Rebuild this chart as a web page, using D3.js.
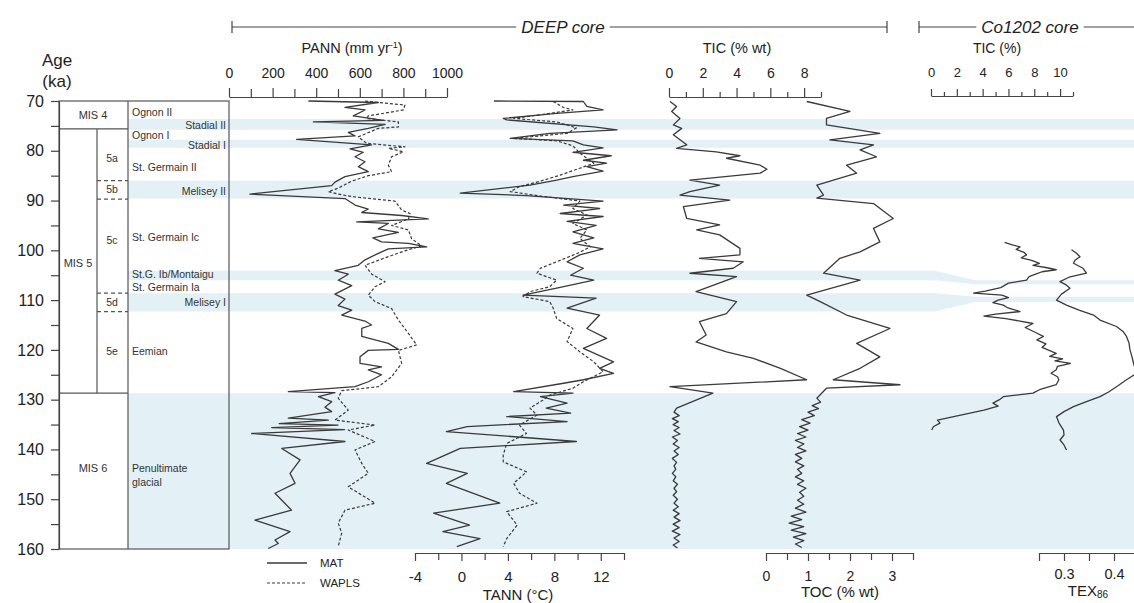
<!DOCTYPE html>
<html><head><meta charset="utf-8">
<script src="https://cdn.jsdelivr.net/npm/d3@7"></script>
<style>body{margin:0;background:#fff;} svg{display:block;font-family:"Liberation Sans",Arial,sans-serif;}</style>
</head><body><svg id="c" width="1134" height="603"></svg>
<script>
// ---------------- DATA ----------------
const ageMajor = [70,80,90,100,110,120,130,140,150,160];
const ageMinor = [75,85,95,105,115,125,135,145,155];
const pannMajor = [0,200,400,600,800,1000];
const pannMinor = [100,300,500,700,900];
const tannMajor = [-4,0,4,8,12];
const tannMinor = [-2,2,6,10,14];
const ticMajor = [0,2,4,6,8];
const ticMinor = [1,3,5,7,9];
const tocMajor = [0,1,2,3];
const tocMinor = [0.5,1.5,2.5,3.5];
const coMajor = [0,2,4,6,8,10];
const coMinor = [1,3,5,7,9,11];
const texMajor = [0.3,0.4];
const texMinor = [0.25,0.35,0.45];

// bands: [label, topAge, bottomAge, Co1202 topAge, Co1202 bottomAge]
const bands = [
  ["Stadial II",73.6,75.8,73.6,75.8],
  ["Stadial I",77.8,79.4,77.8,79.4],
  ["Melisey II",86.0,89.6,86.0,89.6],
  ["St.G. Ib/Montaigu",104.1,106.0,106.0,106.8],
  ["Melisey I",108.6,112.3,109.3,110.4],
  ["Penultimate glacial",128.7,160,128.7,160]
];
const misBounds = [75.6,128.7];
const subBounds = [86.0,89.7,108.6,112.3];
const misLabels = [["MIS 4",72.8],["MIS 5",102.5],["MIS 6",143.8]];
const subLabels = [["5a",81.5],["5b",87.8],["5c",98.0],["5d",110.4],["5e",120.2]];
const stageLeft = [["Ognon II",72.2],["Ognon I",76.8],["St. Germain II",83.3],["St. Germain Ic",97.3],["St.G. Ib/Montaigu",104.9],["St. Germain Ia",107.5],["Eemian",120.2],["Penultimate",143.8],["glacial",146.6]];
const stageRight = [["Stadial II",74.8],["Stadial I",78.9],["Melisey II",88.1],["Melisey I",110.4]];

const pannMat = [[70.0,364],[70.3,685],[71.3,532],[71.8,624],[73.0,570],[73.9,708],[74.2,387],[74.7,716],[75.5,639],[76.3,547],[77.0,578],[77.7,310],[78.8,654],[79.6,555],[80.3,616],[81.2,578],[82.2,624],[83.2,593],[84.2,639],[85.2,532],[86.3,486],[87.0,471],[88.7,96],[89.6,532],[90.9,578],[91.7,639],[92.4,609],[93.0,792],[93.7,914],[94.3,586],[94.6,731],[95.7,685],[96.4,777],[97.5,660],[98.3,700],[98.6,823],[99.3,907],[99.7,731],[100.6,685],[101.9,624],[103.0,593],[104.1,486],[104.8,547],[106.0,501],[107.1,563],[108.8,486],[109.8,532],[111.1,501],[112.0,563],[113.0,517],[114.2,624],[115.0,654],[115.7,609],[117.3,609],[118.7,731],[119.9,777],[120.1,639],[121.4,601],[122.7,601],[123.4,700],[124.0,639],[125.0,700],[126.4,639],[127.4,578],[128.4,272],[128.6,486],[129.4,410],[130.4,471],[131.5,440],[132.4,471],[133.7,272],[134.1,456],[134.8,230],[135.1,500],[135.6,196],[136.0,530],[136.8,104],[138.4,532],[139.8,242],[142.1,326],[144.8,280],[146.8,303],[148.8,211],[152.2,287],[154.2,119],[156.5,280],[158.2,211],[158.9,226],[159.9,180]];
const pannWap = [[70.0,624],[70.3,685],[70.8,807],[71.8,800],[73.0,639],[73.5,631],[74.2,777],[75.2,777],[75.5,685],[77.2,593],[78.5,631],[79.2,807],[79.5,731],[80.2,800],[81.2,746],[82.9,731],[84.2,746],[85.0,639],[86.1,563],[87.5,501],[88.2,456],[88.7,501],[89.2,563],[90.1,761],[91.9,792],[92.6,830],[93.7,823],[95.0,746],[95.9,823],[97.7,838],[99.1,884],[100.1,807],[101.5,716],[103.0,624],[104.8,655],[106.3,716],[107.3,670],[109.0,639],[110.3,670],[111.7,746],[114.0,777],[116.7,823],[119.0,861],[120.1,777],[122.7,792],[125.4,746],[127.4,685],[128.2,517],[129.7,501],[132.1,547],[134.1,486],[135.1,670],[136.1,547],[138.4,670],[140.1,578],[142.8,609],[144.8,639],[147.5,547],[150.8,670],[152.2,532],[154.8,501],[156.8,517],[159.5,501]];

const tannMat = [[70.0,2.8],[70.1,10.5],[71.1,10.8],[71.8,12.2],[72.5,8.2],[73.5,3.6],[73.8,3.9],[75.2,11.4],[75.8,13.4],[76.5,7.6],[77.5,4.2],[78.0,9.6],[78.8,10.5],[79.4,12.2],[80.3,9.6],[81.0,12.9],[81.9,10.5],[82.5,12.5],[83.2,10.8],[84.1,12.2],[85.2,9.6],[85.9,8.2],[86.9,5.9],[88.5,-0.1],[89.0,5.6],[90.1,12.2],[90.9,8.8],[91.6,11.9],[92.6,8.5],[93.2,12.2],[94.2,9.1],[95.0,11.6],[96.3,9.6],[97.5,11.4],[98.6,9.6],[99.7,12.2],[100.9,10.2],[102.3,9.1],[103.6,10.5],[105.0,9.4],[106.0,11.4],[107.6,8.2],[109.0,5.3],[109.6,11.6],[111.6,9.1],[113.0,11.9],[115.7,10.8],[117.7,12.5],[119.7,10.5],[122.4,13.1],[123.7,11.9],[124.7,13.1],[126.0,10.5],[126.7,8.8],[128.4,4.5],[128.7,9.6],[129.4,6.8],[130.7,9.1],[131.7,7.3],[132.7,9.4],[133.4,3.9],[134.4,9.1],[135.4,0.5],[136.4,-1.3],[138.4,9.9],[139.8,-0.1],[142.8,-3.0],[144.8,0.5],[146.8,-1.3],[150.8,3.3],[152.8,-2.4],[155.2,0.7],[156.5,-1.6],[157.9,1.6],[159.5,-0.4]];
const tannWap = [[70.1,7.9],[71.3,8.8],[71.8,9.6],[72.5,7.6],[73.5,4.5],[74.2,8.2],[75.4,9.9],[76.5,9.1],[77.5,4.5],[78.0,8.2],[79.0,9.6],[80.5,10.2],[81.5,10.8],[82.5,11.4],[83.5,10.2],[84.9,8.5],[86.1,6.8],[87.2,5.0],[88.2,4.2],[88.9,6.2],[90.1,10.2],[91.6,9.6],[92.9,10.8],[94.6,9.6],[95.9,10.8],[97.6,10.2],[99.3,11.1],[100.6,10.0],[102.3,8.2],[103.6,6.8],[104.6,6.5],[106.0,8.2],[107.3,7.6],[108.3,5.9],[109.3,5.3],[110.3,7.6],[111.6,7.9],[113.7,8.2],[115.7,9.6],[118.3,9.1],[120.4,10.2],[122.4,11.4],[124.4,12.2],[126.4,10.5],[127.7,9.6],[129.1,7.6],[130.1,7.0],[131.7,5.9],[133.1,6.5],[135.1,5.0],[136.8,5.6],[138.8,3.9],[141.1,3.6],[142.5,3.6],[144.5,5.6],[146.8,4.5],[148.8,5.0],[150.8,6.5],[152.5,3.9],[155.2,4.8],[157.9,3.9],[159.5,3.6]];

const ticDeep = [[70.1,0.06],[71.1,0.45],[72.1,0.16],[73.5,0.65],[74.8,0.26],[75.5,0.75],[76.8,0.26],[77.8,0.65],[78.8,1.05],[79.5,0.45],[80.2,2.8],[81.0,4.2],[81.5,3.4],[82.9,5.4],[83.7,5.8],[84.5,5.4],[85.9,1.24],[86.9,3.0],[88.2,1.24],[88.9,0.65],[89.9,3.6],[91.2,0.85],[93.6,1.05],[94.9,3.0],[95.9,1.64],[96.9,3.0],[99.6,4.2],[100.9,4.2],[101.6,1.8],[102.3,4.4],[103.6,3.8],[104.6,1.24],[105.3,4.0],[108.3,1.6],[110.3,4.0],[112.7,3.4],[114.3,1.8],[117.0,2.2],[118.4,1.6],[120.4,3.4],[121.7,5.0],[123.7,6.6],[126.0,8.15],[127.4,0.06],[128.7,2.6],[131.7,0.45],[132.5,0.3],[133.2,0.6],[133.8,0.2],[134.4,0.55],[135.0,0.25],[135.6,0.6],[136.2,0.3],[136.9,0.65],[137.5,0.2],[138.2,0.5],[138.9,0.25],[139.6,0.6],[140.3,0.3],[141.0,0.55],[141.8,0.2],[142.6,0.45],[143.3,0.3],[144.0,0.4],[144.8,0.2],[145.5,0.4],[146.3,0.25],[147.0,0.5],[147.8,0.3],[148.5,0.45],[149.2,0.25],[150.0,0.5],[150.8,0.3],[151.5,0.55],[152.2,0.25],[152.9,0.6],[153.6,0.3],[154.3,0.65],[155.0,0.25],[155.7,0.6],[156.4,0.2],[157.1,0.65],[157.8,0.3],[158.5,0.6],[159.2,0.25],[159.8,0.5]];
const tocDeep = [[70.1,0.97],[72.1,2.0],[73.5,1.44],[74.8,1.44],[76.5,2.71],[77.8,1.52],[78.8,2.56],[79.8,2.24],[81.2,2.63],[82.9,1.92],[84.5,2.16],[86.9,1.21],[88.9,1.37],[89.5,1.21],[90.6,2.56],[93.6,3.03],[95.6,2.56],[98.3,2.71],[100.3,2.24],[101.6,1.76],[104.6,1.37],[106.0,2.24],[109.0,0.97],[110.3,1.29],[113.0,1.92],[115.7,2.95],[118.7,2.16],[121.4,2.71],[123.7,2.24],[126.0,1.6],[127.0,3.19],[127.7,1.44],[129.7,1.21],[130.5,1.3],[131.2,1.1],[131.8,1.25],[132.5,1.0],[133.2,1.15],[134.0,0.85],[134.7,1.05],[135.4,0.8],[136.1,1.0],[136.8,0.75],[137.5,0.95],[138.2,0.7],[138.9,0.9],[139.6,0.75],[140.3,0.95],[141.0,0.7],[141.8,0.85],[142.5,0.7],[143.3,0.9],[144.0,0.75],[144.8,0.85],[145.5,0.7],[146.3,0.9],[147.0,0.75],[147.8,0.95],[148.6,0.8],[149.4,0.9],[150.2,0.75],[151.0,0.9],[151.8,0.7],[152.6,0.95],[153.4,0.6],[154.1,0.85],[154.8,0.55],[155.5,0.9],[156.2,0.6],[156.9,0.95],[157.6,0.65],[158.3,0.9],[159.0,0.7],[159.7,0.85]];

const ticCo = [[98.4,5.7],[98.9,6.3],[99.3,6.9],[99.8,6.6],[100.4,7.2],[100.9,7.4],[101.5,7.0],[102.0,7.8],[102.6,8.4],[103.0,7.9],[103.5,9.0],[103.9,9.7],[104.3,8.6],[104.8,8.1],[105.3,7.6],[106.0,7.4],[106.6,6.0],[107.5,5.4],[108.2,4.2],[108.6,3.3],[109.0,5.5],[109.5,6.0],[110.0,5.2],[110.5,4.8],[111.0,5.6],[111.5,5.9],[112.3,6.9],[112.8,5.0],[113.2,4.1],[113.7,5.8],[114.7,7.9],[115.5,7.3],[116.5,8.1],[117.3,8.7],[118.0,8.2],[118.8,8.9],[119.5,8.6],[120.7,9.7],[121.3,9.2],[121.8,10.2],[122.2,9.6],[122.7,10.8],[123.3,9.8],[124.0,9.7],[124.7,9.3],[125.4,9.8],[126.0,9.9],[127.0,9.7],[128.0,8.4],[128.7,7.9],[129.4,5.6],[130.0,5.3],[130.7,4.8],[131.3,5.2],[132.1,4.1],[133.1,2.3],[134.1,0.5],[134.7,0.7],[135.4,0.2],[136.1,0.05]];
const tex86 = [[99.9,0.315],[100.6,0.325],[101.3,0.332],[102.0,0.322],[102.6,0.319],[103.6,0.338],[104.6,0.345],[105.4,0.31],[106.3,0.292],[107.0,0.305],[107.6,0.312],[108.8,0.295],[110.0,0.285],[111.0,0.305],[112.0,0.33],[113.0,0.359],[114.0,0.372],[115.3,0.405],[116.3,0.418],[117.3,0.425],[118.6,0.43],[120.0,0.432],[121.4,0.436],[122.7,0.439],[123.7,0.442],[124.7,0.445],[126.0,0.425],[127.4,0.405],[128.4,0.39],[129.4,0.372],[130.4,0.345],[131.4,0.319],[132.4,0.3],[133.4,0.285],[134.7,0.29],[136.1,0.299],[137.1,0.3],[138.1,0.292],[139.1,0.3],[140.1,0.305]];

// ---------------- DRAW ----------------
const svg = d3.select("#c");
const INK = "#3a3a3a";
const y = d3.scaleLinear().domain([70,160]).range([101,549]);
const xPann = d3.scaleLinear().domain([0,1000]).range([229,447]);
const xTann = d3.scaleLinear().domain([-4,14]).range([415,624]);
const xTic = d3.scaleLinear().domain([0,9]).range([669,821]);
const xToc = d3.scaleLinear().domain([0,3.5]).range([766,913]);
const xCo = d3.scaleLinear().domain([0,11]).range([931,1073]);
const xTex = d3.scaleLinear().domain([0.25,0.45]).range([1039,1139]);

// bands
const bandG = svg.append("g");
const tx1 = 935, tx2 = 975;
bands.forEach(b => {
  const pts = [[128,y(b[1])],[tx1,y(b[1])],[tx2,y(b[3])],[1134,y(b[3])],[1134,y(b[4])],[tx2,y(b[4])],[tx1,y(b[2])],[128,y(b[2])]];
  bandG.append("path").attr("d", d3.line()(pts)+"Z").attr("fill","#e3f0f6");
});

// stratigraphy table
const tg = svg.append("g").attr("stroke","#555").attr("stroke-width",1.2).attr("fill","none");
tg.append("rect").attr("x",59).attr("y",y(70)).attr("width",170).attr("height",y(160)-y(70));
tg.append("line").attr("x1",128).attr("x2",128).attr("y1",y(70)).attr("y2",y(160));
tg.append("line").attr("x1",97).attr("x2",97).attr("y1",y(misBounds[0])).attr("y2",y(misBounds[1]));
misBounds.forEach(a => tg.append("line").attr("x1",59).attr("x2",128).attr("y1",y(a)).attr("y2",y(a)));
subBounds.forEach(a => tg.append("line").attr("x1",97).attr("x2",128).attr("y1",y(a)).attr("y2",y(a)).attr("stroke-dasharray","4,3"));
const tt = svg.append("g").attr("fill","#333").attr("font-size",10.5);
misLabels.forEach(([t,a],i) => tt.append("text").attr("x", i===1?78:93).attr("y",y(a)).attr("dy","0.35em").attr("text-anchor","middle").attr("font-size",11).text(t));
subLabels.forEach(([t,a]) => tt.append("text").attr("x",112).attr("y",y(a)).attr("dy","0.35em").attr("text-anchor","middle").text(t));
stageLeft.forEach(([t,a]) => tt.append("text").attr("x",132).attr("y",y(a)).attr("dy","0.35em").text(t));
stageRight.forEach(([t,a]) => tt.append("text").attr("x",226).attr("y",y(a)).attr("dy","0.35em").attr("text-anchor","end").text(t));

// age axis
function styleAxis(g, fs){
  g.select(".domain").attr("stroke","#444").attr("stroke-width",1.2);
  g.selectAll(".tick line").attr("stroke","#444").attr("stroke-width",1.2);
  g.selectAll(".tick text").attr("fill","#222").attr("font-size",fs).attr("font-family","Liberation Sans, Arial, sans-serif");
}
const fmt = d => String(d);
const ageAx = svg.append("g").attr("transform","translate(59,0)")
  .call(d3.axisLeft(y).tickValues(ageMajor).tickFormat(fmt).tickSize(8).tickSizeOuter(0).tickPadding(7));
styleAxis(ageAx,16);
const ageAx2 = svg.append("g").attr("transform","translate(59,0)")
  .call(d3.axisLeft(y).tickValues(ageMinor).tickSize(8).tickFormat(""));
styleAxis(ageAx2,16); ageAx2.select(".domain").remove();
svg.append("text").attr("x",57).attr("y",66).attr("text-anchor","middle").attr("font-size",17).attr("fill","#222").text("Age");
svg.append("text").attr("x",57).attr("y",87).attr("text-anchor","middle").attr("font-size",17).attr("fill","#222").text("(ka)");

// generic axes
function axis(kind, scale, ypos, majors, minors, majSize, minSize, pad, fs){
  const gen = kind==="top" ? d3.axisTop : d3.axisBottom;
  const g = svg.append("g").attr("transform",`translate(0,${ypos})`)
    .call(gen(scale).tickValues(majors).tickFormat(fmt).tickSize(majSize).tickSizeOuter(0).tickPadding(pad));
  styleAxis(g, fs);
  const g2 = svg.append("g").attr("transform",`translate(0,${ypos})`)
    .call(gen(scale).tickValues(minors).tickSize(minSize).tickFormat(""));
  styleAxis(g2, fs); g2.select(".domain").remove();
  return g;
}
axis("top", xPann, 97, pannMajor, pannMinor, 9, 8, 10, 14);
axis("top", xTic, 97, ticMajor, ticMinor, 9, 5, 10, 14);
axis("top", xCo, 96, coMajor, coMinor, 7, 4, 12, 13);
axis("bottom", xTann, 553, tannMajor, tannMinor, 8, 7, 10, 15);
axis("bottom", xToc, 553, tocMajor, tocMinor, 8, 7, 10, 14);
axis("bottom", xTex, 553, texMajor, texMinor, 8, 8, 8, 14.5);

// axis titles
const pt = svg.append("text").attr("x",352).attr("y",53).attr("text-anchor","middle").attr("font-size",14.5).attr("fill","#222");
pt.append("tspan").text("PANN (mm yr");
pt.append("tspan").attr("font-size",9).attr("dy",-5).text("-1");
pt.append("tspan").attr("dy",5).text(")");
svg.append("text").attr("x",737).attr("y",53).attr("text-anchor","middle").attr("font-size",14.5).attr("fill","#222").text("TIC (% wt)");
svg.append("text").attr("x",997).attr("y",53).attr("text-anchor","middle").attr("font-size",14).attr("fill","#222").text("TIC (%)");
svg.append("text").attr("x",518).attr("y",600).attr("text-anchor","middle").attr("font-size",15).attr("fill","#222").text("TANN (°C)");
svg.append("text").attr("x",840).attr("y",597).attr("text-anchor","middle").attr("font-size",15).attr("fill","#222").text("TOC (% wt)");
const tx = svg.append("text").attr("x",1088).attr("y",596).attr("text-anchor","middle").attr("font-size",15).attr("fill","#222");
tx.append("tspan").text("TEX");
tx.append("tspan").attr("font-size",10).attr("dy",2).text("86");

// core brackets
function bracket(x1, x2, label, cx, cap2){
  const g = svg.append("g").attr("stroke","#444").attr("stroke-width",1.2);
  g.append("line").attr("x1",x1).attr("x2",x2).attr("y1",27).attr("y2",27);
  g.append("line").attr("x1",x1).attr("x2",x1).attr("y1",21).attr("y2",33);
  if(cap2) g.append("line").attr("x1",x2).attr("x2",x2).attr("y1",21).attr("y2",33);
  const t = svg.append("text").attr("x",cx).attr("y",33).attr("text-anchor","middle").attr("font-size",17).attr("font-style","italic").attr("fill","#222").text(label);
  const bb = t.node().getBBox();
  svg.insert("rect", () => t.node()).attr("x",bb.x-5).attr("y",20).attr("width",bb.width+10).attr("height",14).attr("fill","#fff");
}
bracket(232, 887, "DEEP core", 563, true);
bracket(919, 1140, "Co1202 core", 1030, false);

// curves
const line = (xs) => d3.line().x(d => xs(d[1])).y(d => y(d[0]));
function curve(data, xs, dashed){
  svg.append("path").datum(data).attr("d", line(xs)).attr("fill","none")
    .attr("stroke", INK).attr("stroke-width", dashed?1.2:1.3)
    .attr("stroke-dasharray", dashed ? "3,2" : null).attr("stroke-linejoin","round");
}
curve(pannWap, xPann, true);
curve(pannMat, xPann, false);
curve(tannWap, xTann, true);
curve(tannMat, xTann, false);
curve(ticDeep, xTic, false);
curve(tocDeep, xToc, false);
curve(ticCo, xCo, false);
curve(tex86, xTex, false);

// legend
const lg = svg.append("g");
lg.append("line").attr("x1",267).attr("x2",307).attr("y1",563).attr("y2",563).attr("stroke",INK).attr("stroke-width",1.3);
lg.append("line").attr("x1",267).attr("x2",307).attr("y1",583).attr("y2",583).attr("stroke",INK).attr("stroke-width",1.2).attr("stroke-dasharray","3,2");
lg.append("text").attr("x",320).attr("y",563).attr("dy","0.35em").attr("font-size",11.5).attr("fill","#222").text("MAT");
lg.append("text").attr("x",320).attr("y",583).attr("dy","0.35em").attr("font-size",11.5).attr("fill","#222").text("WAPLS");
</script>
</body></html>
